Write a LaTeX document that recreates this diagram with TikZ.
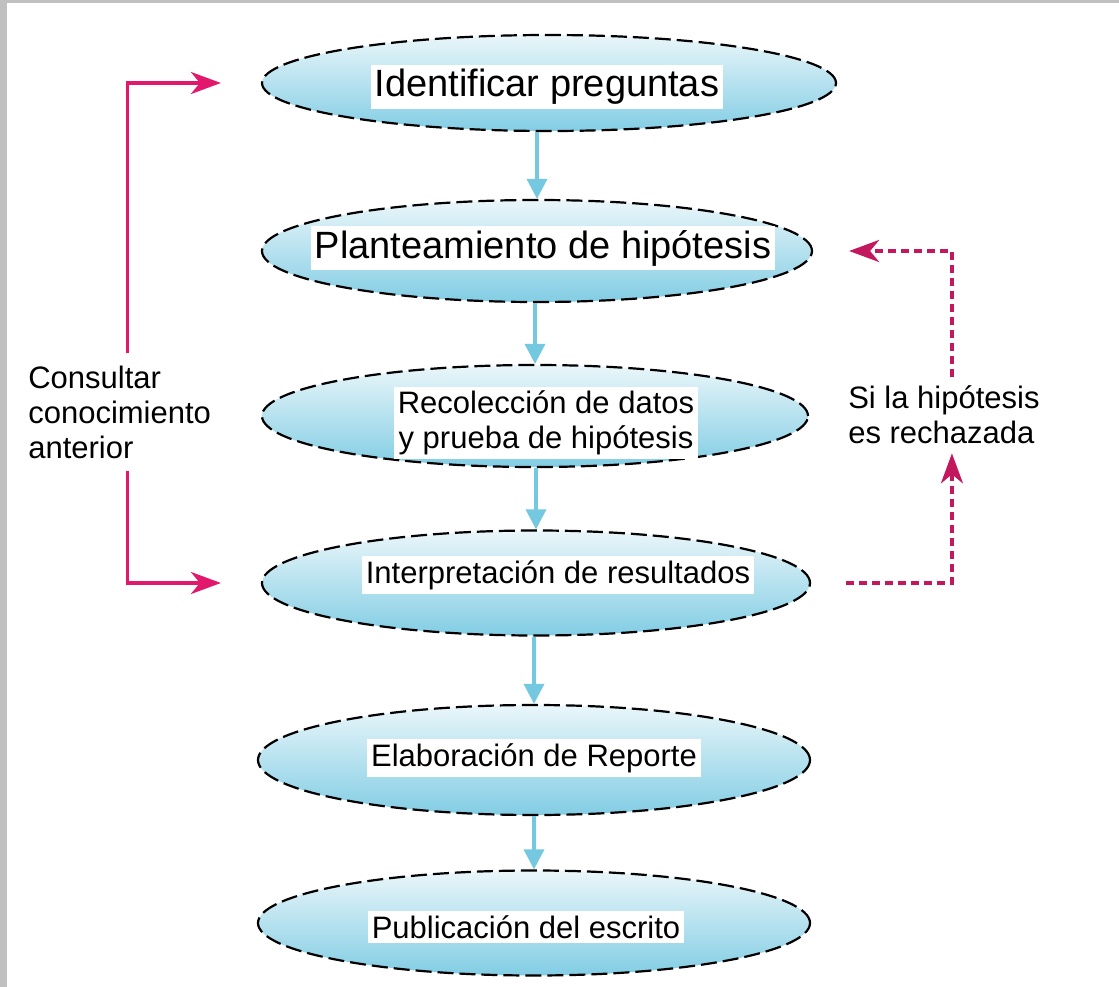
\documentclass[tikz,border=0pt]{standalone}
\usepackage{fontspec}
\setmainfont{Liberation Sans}
\usetikzlibrary{shapes.geometric,arrows.meta}

\definecolor{framegray}{HTML}{C0C0C0}
\definecolor{ellTop}{HTML}{EAF6FA}
\definecolor{ellBot}{HTML}{82CDE4}
\definecolor{flowblue}{HTML}{74C8E0}
\definecolor{consultpink}{HTML}{E2186C}
\definecolor{rejectpink}{HTML}{C4185E}

\begin{document}
\begin{tikzpicture}[x=1pt,y=-1pt,semithick]

  \tikzstyle{stage}=[ellipse,draw=black,line width=2.2pt,dash pattern=on 16pt off 6pt,
                     top color=ellTop,bottom color=ellBot,minimum width=550pt,
                     minimum height=102pt,inner sep=0pt]
  \tikzstyle{big}=[fill=white,inner sep=4pt,font=\fontsize{38}{42}\selectfont]
  \tikzstyle{txt}=[fill=white,inner sep=4pt,align=center,font=\fontsize{31}{35}\selectfont]
  \tikzstyle{side}=[fill=white,align=left,inner xsep=0pt,inner ysep=12pt,anchor=west,
                    font=\fontsize{31}{35}\selectfont]
  \tikzstyle{flow}=[-{Triangle[length=20pt,width=20pt]},draw=flowblue,line width=3.5pt]
  \tikzstyle{consult}=[-{Stealth[length=30pt,width=22pt,inset=9pt]},draw=consultpink,
                       line width=3.5pt]
  \tikzstyle{reject}=[-{Stealth[length=30pt,width=22pt,inset=9pt]},draw=rejectpink,
                      line width=3.5pt,dash pattern=on 8pt off 5pt]

  % frame
  \fill[framegray] (0,0) rectangle (1119,987);
  \fill[white] (7,3) rectangle (1119,987);
  \useasboundingbox (0,0) rectangle (1119,987);

  % stages
  \node[stage,minimum width=574pt,minimum height=96pt] (e1) at (549,83) {};
  \node[stage]                                         (e2) at (537,251) {};
  \node[stage,minimum width=546pt]                     (e3) at (535,416) {};
  \node[stage,minimum width=548pt,minimum height=105pt] (e4) at (536,583) {};
  \node[stage,minimum width=552pt,minimum height=110pt] (e5) at (534,760) {};
  \node[stage,minimum width=552pt,minimum height=105pt] (e6) at (534,923) {};

  \node[big] (t1) at (547,87)  {Identificar preguntas};
  \node[big] (t2) at (543,248) {Planteamiento de hipótesis};
  \node[txt] (t3) at (546,423) {Recolección de datos\\y prueba de hipótesis};
  \node[txt] (t4) at (558,575) {Interpretación de resultados};
  \node[txt] (t5) at (534,758) {Elaboración de Reporte};
  \node[txt] (t6) at (526,927) {Publicación del escrito};

  \foreach \a/\b in {e1/e2,e2/e3,e3/e4,e4/e5,e5/e6}
    \draw[flow] (\b.north |- \a.south) -- (\b.north);

  % loops at the sides
  \node[side] (know) at (28,412) {Consultar\\conocimiento\\anterior};
  \node[side,inner ysep=9pt] (rejtxt) at (848,415) {Si la hipótesis\\es rechazada};

  \draw[consult] ([xshift=8pt]know.north) |- ([xshift=-40pt]e1.west);
  \draw[consult] ([xshift=8pt]know.south) |- ([xshift=-40pt]e4.west);
  \draw[reject]  ([xshift=35pt]e4.east) -| ([xshift=8pt]rejtxt.south);
  \draw[reject]  ([xshift=8pt]rejtxt.north) |- ([xshift=36pt]e2.east);
\end{tikzpicture}
\end{document}
